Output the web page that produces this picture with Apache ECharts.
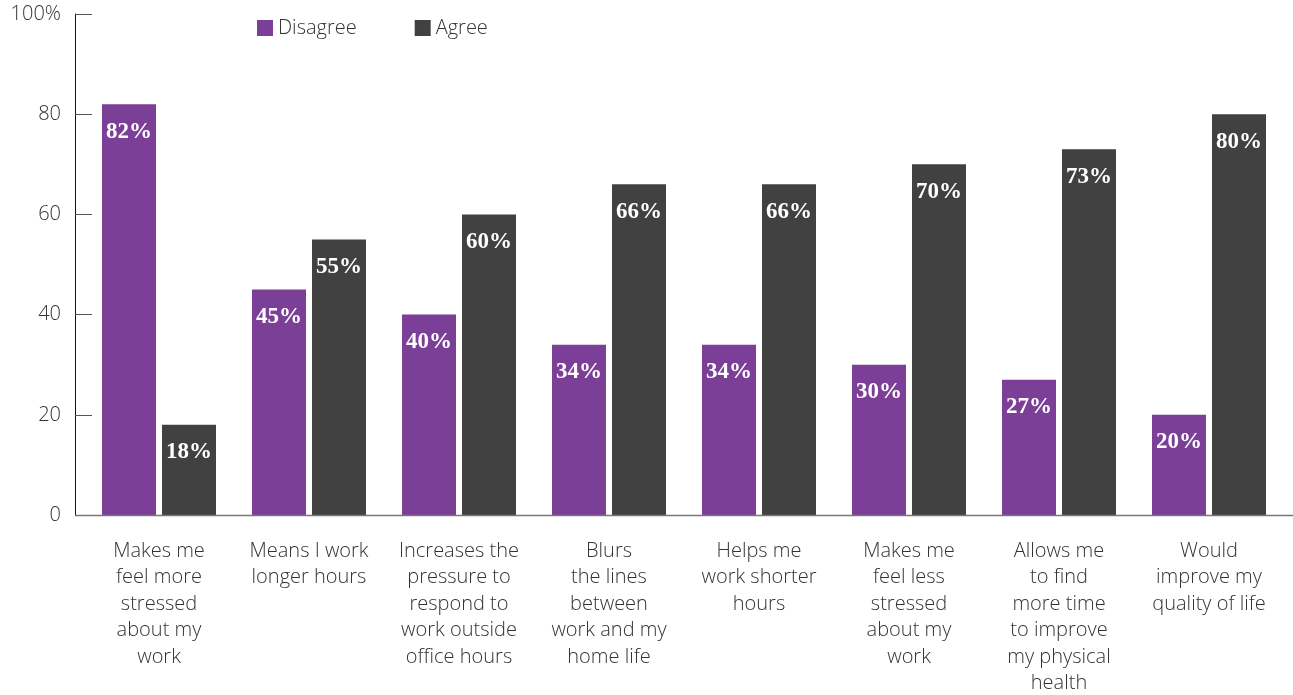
<!DOCTYPE html>
<html>
<head>
<meta charset="utf-8">
<style>
  html, body { margin: 0; padding: 0; background: #ffffff; }
  #chart { width: 1293px; height: 695px; }
</style>
<script src="https://cdn.jsdelivr.net/npm/echarts@6/dist/echarts.min.js"></script>
</head>
<body>
<div id="chart"></div>
<script>
// Statements about working patterns, split on to several lines as shown under the axis
const categories = [
  'Makes me\nfeel more\nstressed\nabout my\nwork',
  'Means I work\nlonger hours',
  'Increases the\npressure to\nrespond to\nwork outside\noffice hours',
  'Blurs\nthe lines\nbetween\nwork and my\nhome life',
  'Helps me\nwork shorter\nhours',
  'Makes me\nfeel less\nstressed\nabout my\nwork',
  'Allows me\nto find\nmore time\nto improve\nmy physical\nhealth',
  'Would\nimprove my\nquality of life'
];

// Share of respondents (%)
const disagree = [82, 45, 40, 34, 34, 30, 27, 20];
const agree = [18, 55, 60, 66, 66, 70, 73, 80];

// Value axis ticks
const yTicks = [0, 20, 40, 60, 80, 100];

const PURPLE = '#7c3f97';
const DARK = '#414141';
const SANS = '"Open Sans", "Noto Sans", sans-serif';
const SERIF = '"Liberation Serif", "DejaVu Serif", serif';

const chart = echarts.init(document.getElementById('chart'), null, { renderer: 'canvas' });

const valueLabel = {
  show: true,
  position: 'insideTop',
  distance: 16,
  formatter: p => p.value + '%',
  color: '#ffffff',
  fontFamily: SERIF,
  fontWeight: 'bold',
  fontSize: 23
};

chart.setOption({
  animation: false,
  backgroundColor: '#ffffff',
  grid: {
    left: 84, right: 9, top: 14, bottom: 180,
    containLabel: false,
    outerBoundsMode: 'none'
  },
  legend: {
    left: 252,
    top: 13,
    itemWidth: 16,
    itemHeight: 16,
    itemGap: 58,
    icon: 'rect',
    textStyle: { fontFamily: SANS, fontSize: 20, fontWeight: 300, color: '#333333' },
    data: ['Disagree', 'Agree']
  },
  xAxis: {
    type: 'category',
    data: categories,
    axisLine: { show: false },
    axisTick: { show: false },
    axisLabel: {
      interval: 0,
      margin: 23,
      fontFamily: SANS,
      fontSize: 20,
      fontWeight: 300,
      lineHeight: 26.5,
      color: '#333333',
      align: 'center'
    }
  },
  yAxis: {
    type: 'value',
    min: yTicks[0],
    max: yTicks[yTicks.length - 1],
    interval: 20,
    offset: 9,
    splitLine: { show: false },
    axisLine: { show: true, lineStyle: { color: '#111111', width: 1 } },
    axisTick: { show: true, inside: true, length: 17, lineStyle: { color: '#555555', width: 1 } },
    axisLabel: {
      margin: 14,
      padding: [4, 0, 0, 0],
      fontFamily: SANS,
      fontSize: 20,
      fontWeight: 300,
      color: '#333333',
      formatter: v => (v === 100 ? '100%' : String(v))
    }
  },
  graphic: [{
    type: 'line',
    z: 5,
    shape: { x1: 75, y1: 515.5, x2: 1293, y2: 515.5 },
    style: { stroke: '#777777', lineWidth: 1.5 }
  }],
  series: [
    {
      name: 'Disagree',
      type: 'bar',
      data: disagree,
      barWidth: 54,
      barGap: '11.1%',
      itemStyle: { color: PURPLE },
      label: valueLabel
    },
    {
      name: 'Agree',
      type: 'bar',
      data: agree,
      barWidth: 54,
      barGap: '11.1%',
      itemStyle: { color: DARK },
      label: valueLabel
    }
  ]
});
</script>
</body>
</html>
